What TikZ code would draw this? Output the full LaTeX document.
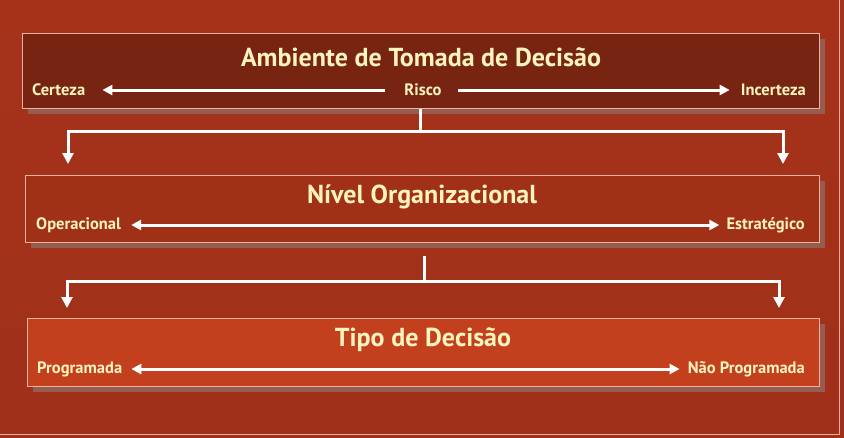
\documentclass[tikz,border=0pt]{standalone}
\usepackage{fontspec}
\setmainfont{PT Sans}
\usetikzlibrary{arrows.meta}
\definecolor{bgtop}{RGB}{166,50,26}
\definecolor{bgmid}{RGB}{186,60,28}
\definecolor{bgbot}{RGB}{160,48,26}
\definecolor{boxA}{RGB}{119,36,18}
\definecolor{boxB}{RGB}{160,48,22}
\definecolor{boxC}{RGB}{194,64,30}
\definecolor{cream}{RGB}{255,244,190}
\definecolor{edge}{RGB}{236,178,160}
\definecolor{shadowc}{RGB}{150,92,80}
\tikzset{
  panel/.style={draw=edge, line width=0.8pt, inner sep=0pt, anchor=north west},
  title/.style={text=cream, font=\bfseries\fontsize{26}{31}\selectfont, inner sep=0pt},
  lab/.style={text=cream, font=\bfseries\fontsize{16.5}{20}\selectfont, inner sep=0pt},
  wline/.style={draw=white, line width=3pt},
  warrow/.style={draw=white, line width=3pt, -{Triangle[width=11pt,length=11pt]}},
  rarrow/.style={draw=white, line width=3pt, -{Triangle[width=10pt,length=10pt]}},
  wboth/.style={draw=white, line width=3pt, {Triangle[width=10pt,length=10pt]}-{Triangle[width=10pt,length=10pt]}}
}
\begin{document}
\begin{tikzpicture}[x=1pt,y=-1pt]
\useasboundingbox (0,0) rectangle (844,437);
\fill[white] (0,0) rectangle (844,437);
\shade[top color=bgtop, middle color=bgmid, bottom color=bgbot] (0,0) rectangle (844,437);
\draw[edge, line width=0.8pt] (839,0) -- (839,434) -- (0,434);

% shadows
\fill[shadowc] (28,39) rectangle (825,114);
\fill[shadowc] (31,181) rectangle (825,248);
\fill[shadowc] (33,324) rectangle (825,392);

% boxes
\node[panel, fill=boxA, minimum width=797pt, minimum height=75pt] (b1) at (22,33) {};
\node[panel, fill=boxB, minimum width=794pt, minimum height=67pt] (b2) at (25,175) {};
\node[panel, fill=boxC, minimum width=792pt, minimum height=68pt] (b3) at (27,318) {};

% titles
\node[title] (t1) at (421,57) {Ambiente de Tomada de Decisão};
\node[title] (t2) at (422,197) {Nível Organizacional};
\node[title] (t3) at (423,340) {Tipo de Decisão};

% labels row 1
\node[lab, anchor=west] (certeza) at (32,90) {Certeza};
\node[lab] (risco) at (423,90) {Risco};
\node[lab, anchor=east] (incerteza) at (806,90) {Incerteza};
\draw[rarrow, shorten >=17pt, shorten <=19pt] (risco.west) -- (certeza.east);
\draw[rarrow, shorten >=11pt, shorten <=16pt] (risco.east) -- (incerteza.west);

% labels row 2
\node[lab, anchor=west] (oper) at (36,225) {Operacional};
\node[lab, anchor=east] (estr) at (805,225) {Estratégico};
\draw[wboth, shorten >=7pt, shorten <=10pt] (oper.east) -- (estr.west);

% labels row 3
\node[lab, anchor=west] (prog) at (37,369) {Programada};
\node[lab, anchor=east] (naoprog) at (805,369) {Não Programada};
\draw[wboth, shorten >=8pt, shorten <=9pt] (prog.east) -- (naoprog.west);

% connector 1
\coordinate (j1) at (420,131);
\coordinate (l1) at (68,131);
\coordinate (r1) at (783,131);
\coordinate (l1e) at (68,164);
\coordinate (r1e) at (783,164);
\draw[wline] (b1.south -| j1) -- (j1);
\draw[wline, line cap=rect] (l1) -- (r1);
\draw[warrow] (l1) -- (l1e);
\draw[warrow] (r1) -- (r1e);

% connector 2
\coordinate (s2) at (424,256);
\coordinate (j2) at (424,281);
\coordinate (l2) at (67,281);
\coordinate (r2) at (779,281);
\coordinate (l2e) at (67,308);
\coordinate (r2e) at (779,308);
\draw[wline] (s2) -- (j2);
\draw[wline, line cap=rect] (l2) -- (r2);
\draw[warrow] (l2) -- (l2e);
\draw[warrow] (r2) -- (r2e);
\end{tikzpicture}
\end{document}
